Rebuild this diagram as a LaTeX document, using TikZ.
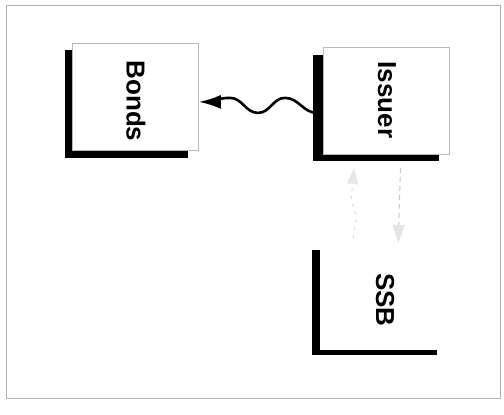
\documentclass[tikz,border=0pt]{standalone}
\usepackage{fontspec}
\setmainfont{Liberation Sans}
\usetikzlibrary{arrows.meta}
\tikzset{
  boxnode/.style={draw=gray!55, line width=0.8pt, fill=white, minimum width=126pt, minimum height=107pt, inner sep=0pt, anchor=north west},
  nobordernode/.style={fill=white, minimum width=126pt, minimum height=107pt, inner sep=0pt, anchor=north west},
  shadow/.style={fill=black, draw=none},
  lbl/.style={font=\bfseries\fontsize{26}{30}\selectfont, inner sep=0pt},
  wave/.style={line width=2.6pt, -{Latex[length=22pt,width=14pt]}},
  faintdash/.style={gray!45, line width=1pt, dash pattern=on 5pt off 4pt, -{Triangle[length=18pt,width=12pt,color=gray!20,fill=gray!20]}},
  faintdot/.style={gray!30, line width=1pt, dash pattern=on 3pt off 5pt, -{Triangle[length=16pt,width=11pt,color=gray!18,fill=gray!18]}}
}
\begin{document}
\begin{tikzpicture}[x=1pt,y=-1pt]
\useasboundingbox (0,0) rectangle (504,415);
\fill[white] (0,0) rectangle (504,415);
\draw[gray!60, line width=0.8pt] (6,5) rectangle (500,398);
% shadows
\fill[shadow] (65,50) rectangle (188,158);
\fill[shadow] (313,55) rectangle (439,161);
\fill[shadow] (312,250) rectangle (437,355);
% boxes
\node[boxnode] (bonds) at (72,43) {};
\node[boxnode] (issuer) at (323,47) {};
\node[nobordernode] (ssb) at (320,243) {};
% labels
\node[lbl] (bondsL) at (136,101) {\rotatebox[origin=c]{-90}{Bonds}};
\node[lbl] (issuerL) at (387,100) {\rotatebox[origin=c]{-90}{Issuer}};
\node[lbl] (ssbL) at (385,300) {\rotatebox[origin=c]{-90}{SSB}};
% wavy arrow issuer -> bonds
\draw[wave] ([shift={(-6,12)}]issuer.west) to[out=180,in=0] ++(-32,-15) to[out=180,in=0] ++(-27,15) to[out=180,in=0] ++(-28,-15) to[out=180,in=0] ([shift={(0,5)}]bonds.east);
% faint dashed arrow issuer -> ssb
\draw[faintdash] ([shift={(14,13)}]issuer.south) -- ([shift={(15,0)}]ssb.north);
% faint dotted arrow ssb -> issuer
\draw[faintdot] ([shift={(-30,-5)}]ssb.north) -- ++(3,-20) -- ++(-5,-20) -- ++(3,-30);
\end{tikzpicture}
\end{document}
